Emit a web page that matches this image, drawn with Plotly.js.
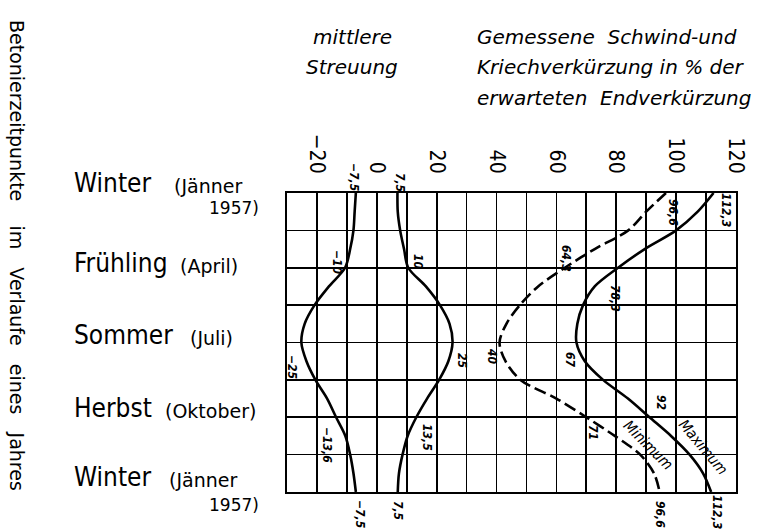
<!DOCTYPE html>
<html>
<head>
<meta charset="utf-8">
<script src="https://cdn.plot.ly/plotly-3.0.1.min.js"></script>
<style>
  html, body { margin: 0; padding: 0; background: #fff; }
  #chart { width: 767px; height: 532px; }
</style>
</head>
<body>
<div id="chart"></div>
<script>
// rows of the grid: 0 = Winter (Jänner), 2 = Frühling, 4 = Sommer, 6 = Herbst, 8 = Winter
const rows = [0, 0.5, 1, 1.5, 2, 2.5, 3, 3.5, 4, 4.5, 5, 5.5, 6, 6.5, 7, 7.5, 8];

// mittlere Streuung (negative / positive)
const streuungMinus = [-7.0, -7.4, -7.8, -8.9, -10.6, -16.0, -20.8, -24.1, -25.2, -23.5, -20.5, -16.6, -13.6, -10.5, -8.9, -7.8, -7.0];
const streuungPlus = [6.9, 7.0, 7.8, 9.1, 10.5, 16.4, 21.1, 24.3, 25.3, 23.9, 20.8, 16.8, 13.2, 10.3, 8.6, 7.4, 7.0];

// gemessene Verkürzung in % der erwarteten Endverkürzung
const minimum = [96.6, 90.0, 84.0, 72.8, 62.8, 53.9, 47.8, 43.3, 41.0, 43.0, 48.0, 60.0, 70.0, 79.5, 88.0, 92.6, 94.5];
const maximum = [112.5, 107.2, 100.0, 89.5, 80.6, 72.8, 68.9, 67.0, 66.7, 69.5, 75.6, 83.9, 91.1, 98.3, 104.5, 109.0, 111.7];

const xTickVals = [-20, 0, 20, 40, 60, 80, 100, 120];
const xTickText = ['−20', '0', '20', '40', '60', '80', '100', '120'];

const seasonNames = ['Winter', 'Frühling', 'Sommer', 'Herbst', 'Winter'];
const seasonNotes = ['(Jänner', '(April)', '(Juli)', '(Oktober)', '(Jänner'];
const yearNote = '1957)';

const valueLabels = ['−7,5', '7,5', '−10', '10', '−25', '25', '−13,6', '13,5',
    '64,3', '40', '71', '96,6', '112,3', '78,3', '67', '92',
    '−7,5', '7,5', '96,6', '112,3'];

// ---- layout helpers (page pixels -> paper) ----
const L = 287, T = 193, W = 449, H = 299;
const px = X => (X - L) / W;
const py = Y => (T + H - Y) / H;

const lettering = 'DejaVu Sans Condensed, DejaVu Sans, sans-serif';
const plain = 'DejaVu Sans, sans-serif';

function curve(x, dash) {
    return {
        x: x, y: rows, type: 'scatter', mode: 'lines',
        line: { color: '#000', width: 2.6, shape: 'spline', smoothing: 0.9, dash: dash },
        hoverinfo: 'skip', showlegend: false
    };
}

const annotations = [];
function note(text, X, Y, opts) {
    annotations.push(Object.assign({
        text: text, x: px(X), y: py(Y), xref: 'paper', yref: 'paper',
        showarrow: false, xanchor: 'center', yanchor: 'middle',
        font: { family: lettering, size: 12, color: '#000', style: 'italic', weight: 'bold' }
    }, opts || {}));
}

// season labels on the left
const nameY = [183, 263, 335, 408, 477];
const noteX = [172, 178, 188, 163, 167];
seasonNames.forEach((s, i) => {
    note(s, 72, nameY[i], { xanchor: 'left', font: { family: lettering, size: 26, color: '#000', weight: 500 } });
    note(seasonNotes[i], noteX[i], nameY[i] + 3, { xanchor: 'left', font: { family: plain, size: 19, color: '#000' } });
});
note(yearNote, 261, 208, { xanchor: 'right', font: { family: plain, size: 17, color: '#000' } });
note(yearNote, 261, 505, { xanchor: 'right', font: { family: plain, size: 17, color: '#000' } });

// vertical title
const sp = '\u00a0\u00a0\u00a0';
note('Betonierzeitpunkte' + sp + '\u00a0im' + sp + 'Verlaufe' + sp + 'eines' + sp + 'Jahres', 17, 255,
    { textangle: 90, font: { family: plain, size: 19, color: '#000' } });

// header texts
const head = { family: plain, size: 20, color: '#000', style: 'italic' };
note('mittlere', 352, 37, { font: head });
note('Streuung', 352, 67, { font: head });
note('Gemessene\u00a0 Schwind-und', 475, 37, { xanchor: 'left', font: head });
note('Kriechverkürzung in % der', 475, 67, { xanchor: 'left', font: head });
note('erwarteten\u00a0 Endverkürzung', 475, 98, { xanchor: 'left', font: head });

// value labels along the curves (rotated like the drawing)
const labelXY = [[354, 177], [400, 182], [337, 262], [418, 262], [292, 367], [462, 360], [327, 445], [427, 437],
    [566, 258], [492, 357], [593, 432], [673, 212], [726, 210], [615, 298], [570, 360], [661, 402],
    [360, 514], [398, 510], [660, 514], [717, 512]];
valueLabels.forEach((t, i) => note(t, labelXY[i][0], labelXY[i][1], { textangle: 90 }));
note('Minimum', 648, 445, { textangle: 45, font: { family: lettering, size: 15, color: '#000', style: 'italic' } });
note('Maximum', 703, 447, { textangle: 50, font: { family: lettering, size: 15, color: '#000', style: 'italic' } });

Plotly.newPlot('chart', [
    curve(streuungMinus, 'solid'),
    curve(streuungPlus, 'solid'),
    curve(minimum, '12px,5px'),
    curve(maximum, 'solid')
], {
    width: 767, height: 532,
    margin: { l: L, r: 767 - L - W, t: T, b: 532 - T - H },
    paper_bgcolor: '#fff', plot_bgcolor: '#fff',
    showlegend: false,
    font: { family: lettering, color: '#000' },
    xaxis: {
        side: 'top', range: [-30, 120], fixedrange: true,
        tickmode: 'array', tickvals: xTickVals, ticktext: xTickText,
        tickangle: 90, ticks: '', ticklabelstandoff: 10,
        tickfont: { family: lettering, size: 21, color: '#000', weight: 500 },
        showgrid: true, gridcolor: '#000', gridwidth: 1.7,
        minor: { dtick: 10, tick0: 0, showgrid: true, gridcolor: '#000', gridwidth: 1.7 },
        zeroline: false, showline: true, mirror: true, linecolor: '#000', linewidth: 2
    },
    yaxis: {
        range: [8, 0], fixedrange: true,
        tickmode: 'linear', tick0: 0, dtick: 1, showticklabels: false, ticks: '',
        showgrid: true, gridcolor: '#000', gridwidth: 1.7,
        zeroline: false, showline: true, mirror: true, linecolor: '#000', linewidth: 2
    },
    annotations: annotations
}, { displayModeBar: false, staticPlot: true });
</script>
</body>
</html>
